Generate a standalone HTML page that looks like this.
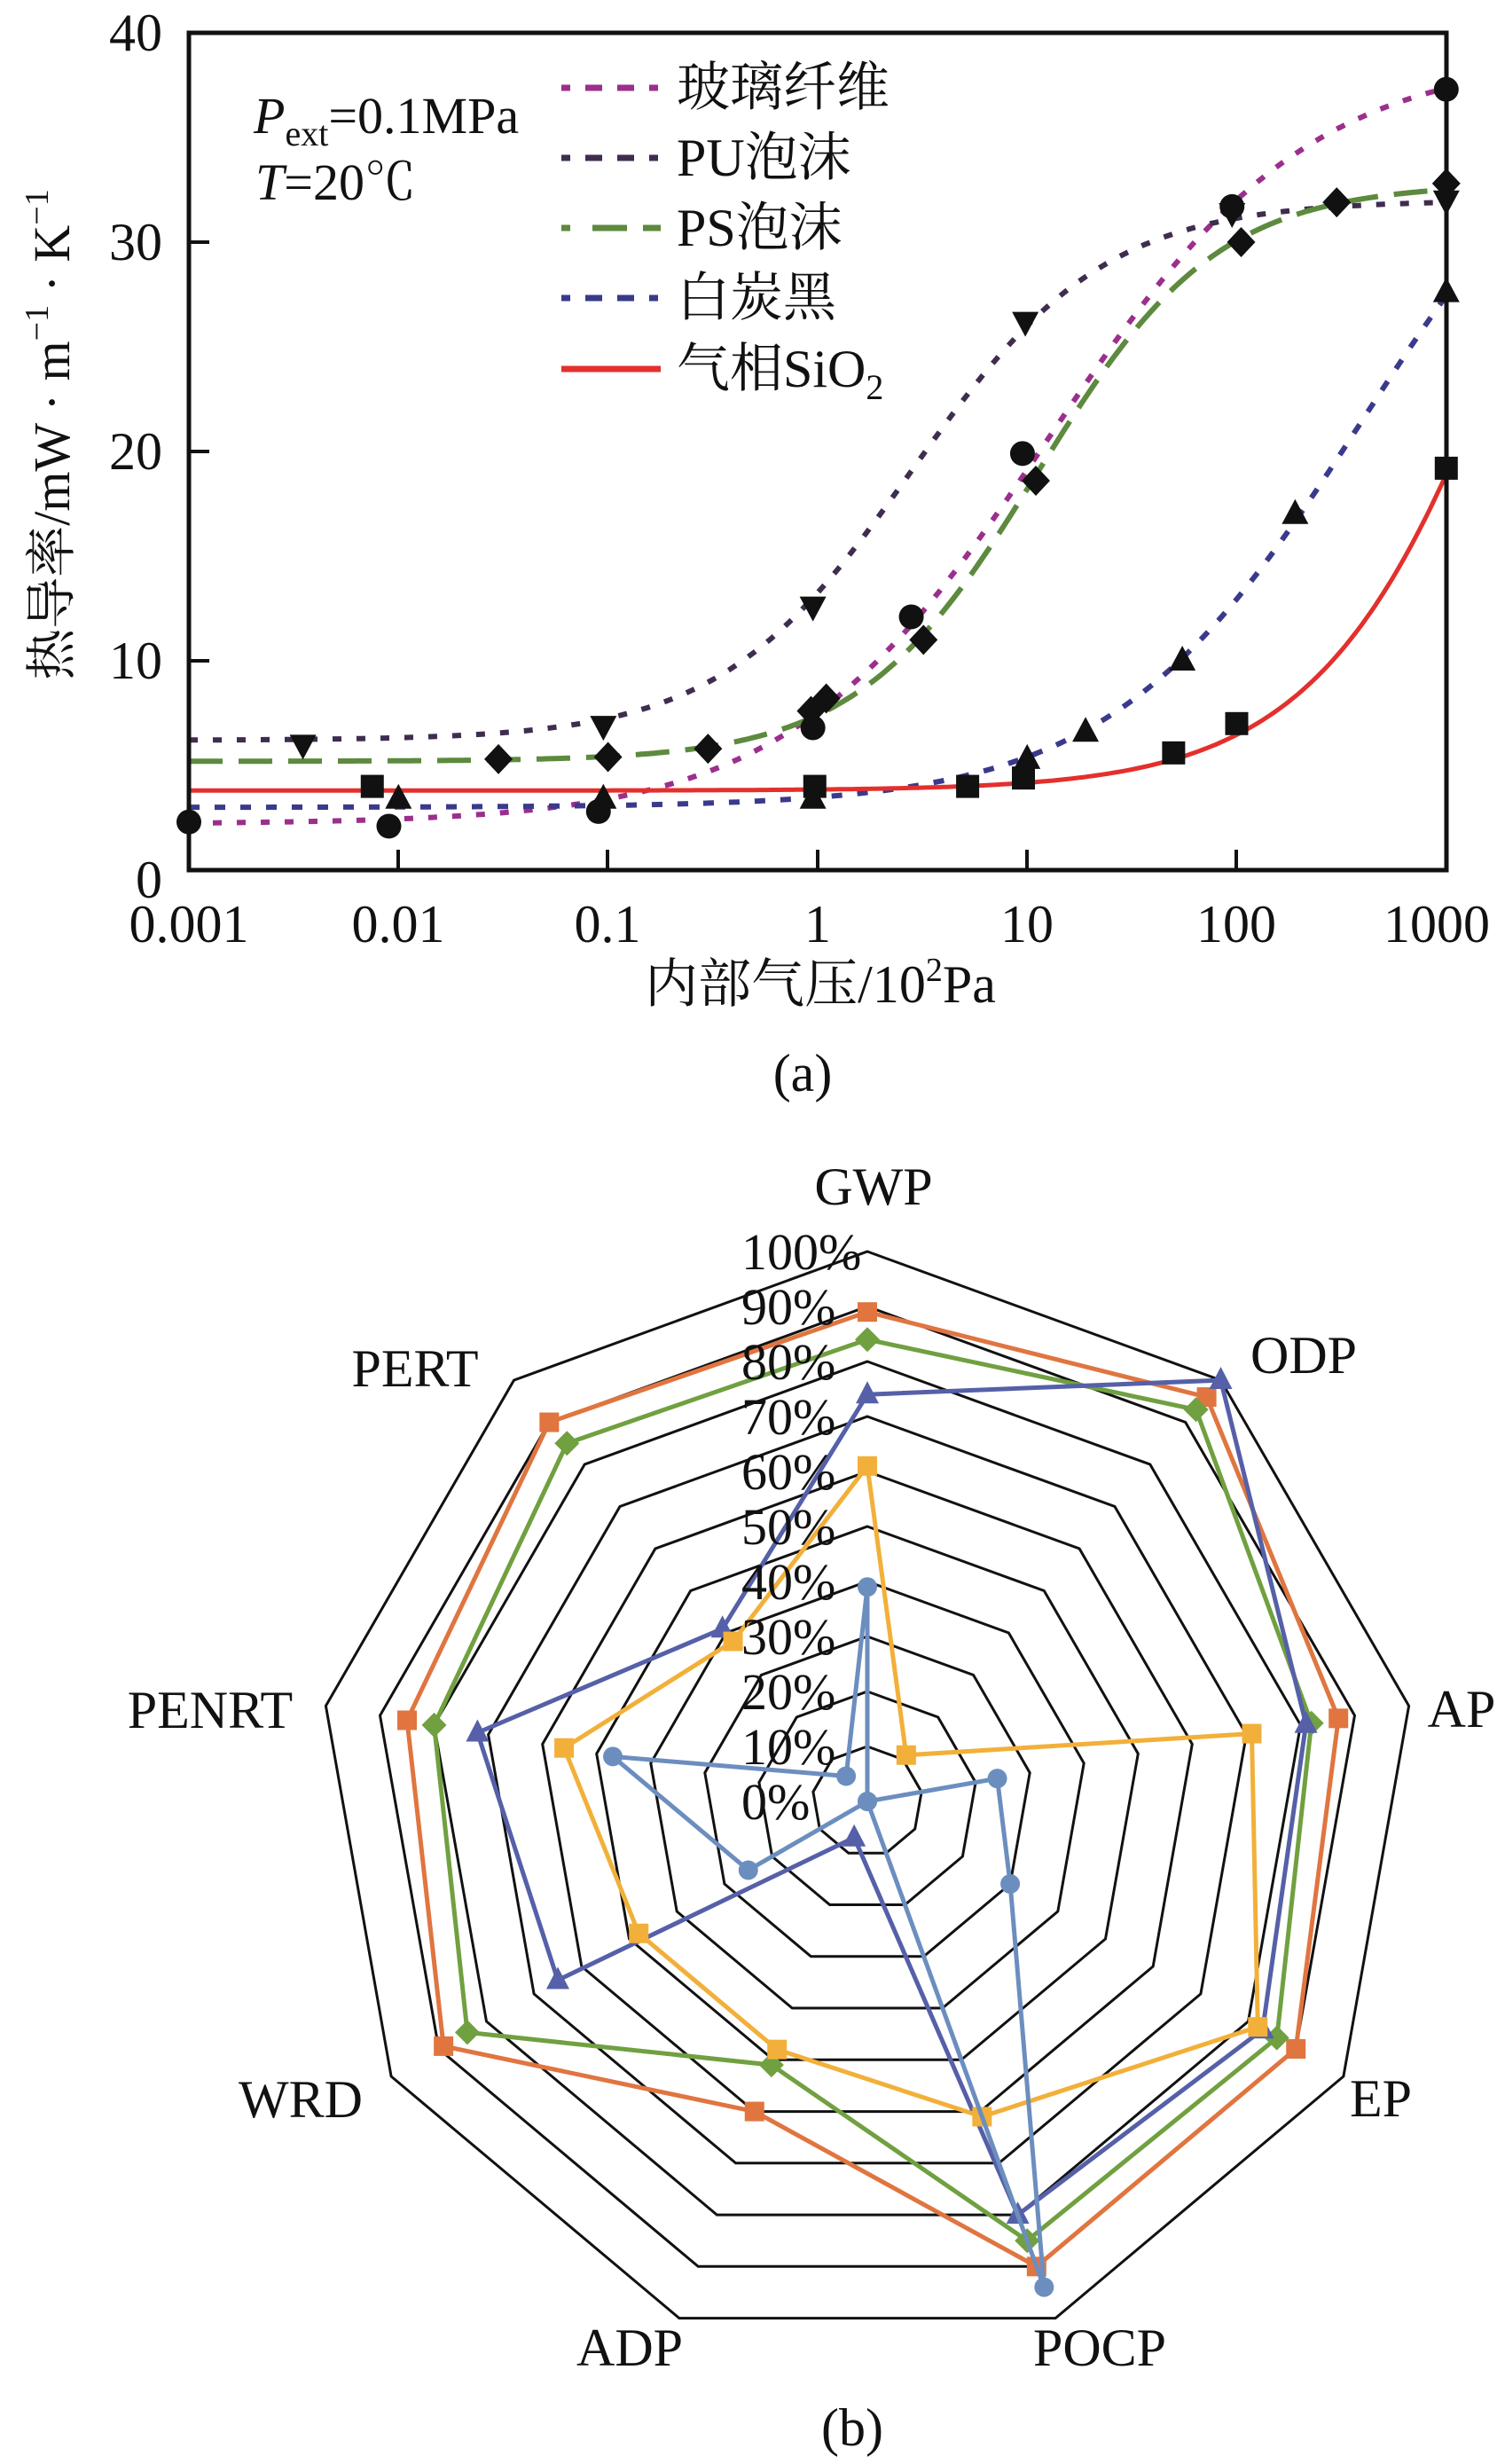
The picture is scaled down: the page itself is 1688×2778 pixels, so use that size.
<!DOCTYPE html>
<html><head><meta charset="utf-8">
<style>
html,body{margin:0;padding:0;background:#fff;}
svg{display:block;}
text{font-family:"Liberation Serif","Noto Serif CJK SC","Noto Sans CJK SC",serif;fill:#111;}
</style></head>
<body>
<svg id="s" width="1688" height="2778" viewBox="0 0 1688 2778" xmlns="http://www.w3.org/2000/svg">
<rect width="1688" height="2778" fill="#fff"/>
<!-- ===== Chart (a) ===== -->
<g id="curves"></g>
<g id="marks"></g>
<rect x="213" y="37" width="1418" height="944" fill="none" stroke="#111" stroke-width="5"/>
<g stroke="#111" stroke-width="4">
<line x1="213" y1="745" x2="236" y2="745"/><line x1="213" y1="509" x2="236" y2="509"/><line x1="213" y1="273" x2="236" y2="273"/>
<line x1="449" y1="981" x2="449" y2="958"/><line x1="685" y1="981" x2="685" y2="958"/><line x1="922" y1="981" x2="922" y2="958"/>
<line x1="1158" y1="981" x2="1158" y2="958"/><line x1="1394" y1="981" x2="1394" y2="958"/>
</g>
<g font-size="60" text-anchor="end">
<text x="183" y="57">40</text><text x="183" y="293">30</text><text x="183" y="529">20</text><text x="183" y="765">10</text><text x="183" y="1012">0</text>
</g>
<g font-size="60" text-anchor="middle">
<text x="213" y="1062">0.001</text><text x="449" y="1062">0.01</text><text x="685" y="1062">0.1</text>
<text x="922" y="1062">1</text><text x="1158" y="1062">10</text><text x="1394" y="1062">100</text><text x="1620" y="1062">1000</text>
</g>
<text x="925" y="1130" font-size="60" text-anchor="middle">内部气压/10<tspan font-size="38" dy="-24">2</tspan><tspan dy="24">Pa</tspan></text>
<text x="905" y="1230" font-size="60" text-anchor="middle">(a)</text>
<text transform="translate(78,490) rotate(-90)" font-size="58" text-anchor="middle">热导率/mW · m<tspan font-size="38" dy="-24">−1</tspan><tspan dy="24"> · K</tspan><tspan font-size="38" dy="-24">−1</tspan></text>
<text x="286" y="150" font-size="58"><tspan font-style="italic">P</tspan><tspan font-size="40" dy="14">ext</tspan><tspan dy="-14">=0.1MPa</tspan></text>
<text x="288" y="225" font-size="58"><tspan font-style="italic">T</tspan>=20℃</text>
<!-- legend -->
<g stroke-width="7" fill="none">
<line x1="633" y1="99" x2="745" y2="99" stroke="#9b2f8c" stroke-dasharray="10 17 19 17 19 17 10"/>
<line x1="633" y1="178" x2="745" y2="178" stroke="#3f2d4f" stroke-dasharray="10 17 19 17 19 17 10"/>
<line x1="633" y1="257" x2="745" y2="257" stroke="#5d8a3e" stroke-dasharray="10 25 39 18 20"/>
<line x1="633" y1="336" x2="745" y2="336" stroke="#3a3a8c" stroke-dasharray="10 17 19 17 19 17 10"/>
<line x1="633" y1="416" x2="745" y2="416" stroke="#e3302c"/>
</g>
<g font-size="60">
<text x="763" y="119">玻璃纤维</text>
<text x="763" y="198">PU泡沫</text>
<text x="763" y="277">PS泡沫</text>
<text x="763" y="356">白炭黑</text>
<text x="763" y="436">气相SiO<tspan font-size="40" dy="14">2</tspan></text>
</g>
<!-- ===== Chart (b) ===== -->
<g id="rings"></g>
<g id="series"></g>
<g font-size="58" id="pct"></g>
<g font-size="60" text-anchor="middle">
<text x="985" y="1358">GWP</text>
<text x="1470" y="1548">ODP</text>
<text x="1648" y="1947">AP</text>
<text x="1557" y="2386">EP</text>
<text x="1240" y="2667">POCP</text>
<text x="710" y="2667">ADP</text>
<text x="339" y="2387">WRD</text>
<text x="237" y="1948">PENRT</text>
<text x="468" y="1563">PERT</text>
<text x="961" y="2757">(b)</text>
</g>
<script>
(function(){
var NS="http://www.w3.org/2000/svg";
function el(t,a,p){var e=document.createElementNS(NS,t);for(var k in a)e.setAttribute(k,a[k]);p.appendChild(e);return e;}
function X(p){return 213+(Math.log10(p)+3)*236.3;}
function Y(v){return 981-v*23.6;}
function sig(a,b,x0,w){return function(x){return a+(b-a)/(1+Math.exp(-(x-x0)/w));};}
var cv=document.getElementById('curves');
var defs=[
 [sig(2.2,39,1.1,0.62),'#9b2f8c','10 17'],
 [sig(6.2,32,0.45,0.46),'#3f2d4f','10 17'],
 [sig(5.2,32.8,1.05,0.43),'#5d8a3e','38 18'],
 [sig(3.0,40,2.6,0.6),'#3a3a8c','12 17'],
 [sig(3.8,60,3.5,0.5),'#e3302c',null]
];
defs.forEach(function(d){
 var pts=[];for(var x=-3;x<=3.0001;x+=0.02){pts.push(X(Math.pow(10,x)).toFixed(1)+','+Y(d[0](x)).toFixed(1));}
 var a={points:pts.join(' '),fill:'none',stroke:d[1],'stroke-width':d[2]?6:5};
 if(d[2])a['stroke-dasharray']=d[2];
 el('polyline',a,cv);
});
var mk=document.getElementById('marks');
function circ(p,v){el('circle',{cx:X(p),cy:Y(v),r:14,fill:'#111'},mk);}
function sq(p,v){el('rect',{x:X(p)-13,y:Y(v)-13,width:26,height:26,fill:'#111'},mk);}
function dia(p,v){var x=X(p),y=Y(v);el('polygon',{points:[x,y-17,x+16,y,x,y+17,x-16,y].join(','),fill:'#111'},mk);}
function tu(p,v){var x=X(p),y=Y(v);el('polygon',{points:[x,y-17,x+15,y+11,x-15,y+11].join(','),fill:'#111'},mk);}
function td(p,v){var x=X(p),y=Y(v);el('polygon',{points:[x,y+17,x+15,y-11,x-15,y-11].join(','),fill:'#111'},mk);}
[[0.001,2.3],[0.009,2.1],[0.09,2.8],[0.95,6.8],[2.8,12.1],[9.5,19.9],[95,31.7],[1000,37.3]].forEach(function(a){circ(a[0],a[1]);});
[[0.0035,6],[0.095,6.9],[0.95,12.6],[9.8,26.2],[95,31.4],[1000,32]].forEach(function(a){td(a[0],a[1]);});
[[0.03,5.3],[0.1,5.4],[0.3,5.8],[0.93,7.6],[1.1,8.2],[3.2,11],[11,18.6],[105,30],[300,31.9],[1000,32.8]].forEach(function(a){dia(a[0],a[1]);});
[[0.0075,4],[0.97,4],[5.2,4],[9.6,4.4],[50,5.6],[100,7.0],[1000,19.2]].forEach(function(a){sq(a[0],a[1]);});
[[0.01,3.4],[0.095,3.4],[0.95,3.4],[10,5.3],[19,6.6],[55,10],[190,17],[1000,27.6]].forEach(function(a){tu(a[0],a[1]);});
// radar
var cx=978,cy=2031,R=620;
function P(k,f){var a=k*40*Math.PI/180;return [cx+Math.sin(a)*R*f,cy-Math.cos(a)*R*f];}
var rg=document.getElementById('rings');
for(var i=1;i<=10;i++){var pts=[];for(var k=0;k<9;k++){pts.push(P(k,i/10).map(function(v){return v.toFixed(1);}).join(','));}
 el('polygon',{points:pts.join(' '),fill:'none',stroke:'#111','stroke-width':3},rg);}
var sr=document.getElementById('series');
var S=[
 ['#e07540','sq',[89,96,87,90,90,60,89,85,90]],
 ['#70a040','dia',[84,93,82,86,85,51,84,80,85]],
 ['#5560a8','tri',[74,100,81,83,80,7,65,72,41]],
 ['#f2b03a','sq',[61,11,71,82,61,48,48,56,38]],
 ['#6c8ebf','circ',[39,0,24,30,94,0,25,47,6]]
];
S.forEach(function(s){
 var pts=s[2].map(function(v,k){return P(k,v/100);});
 el('polygon',{points:pts.map(function(p){return p[0].toFixed(1)+','+p[1].toFixed(1);}).join(' '),fill:'none',stroke:s[0],'stroke-width':5,'stroke-linejoin':'miter'},sr);
 pts.forEach(function(p){var x=p[0],y=p[1];
  if(s[1]=='sq')el('rect',{x:x-11,y:y-11,width:22,height:22,fill:s[0]},sr);
  else if(s[1]=='dia')el('polygon',{points:[x,y-14,x+14,y,x,y+14,x-14,y].join(','),fill:s[0]},sr);
  else if(s[1]=='tri')el('polygon',{points:[x,y-15,x+13,y+10,x-13,y+10].join(','),fill:s[0]},sr);
  else el('circle',{cx:x,cy:y,r:11,fill:s[0]},sr);
 });
});
})();
</script>
<g font-size="58">
<text x="836" y="1431">100%</text>
<text x="836" y="1493">90%</text>
<text x="836" y="1555">80%</text>
<text x="836" y="1617">70%</text>
<text x="836" y="1679">60%</text>
<text x="836" y="1741">50%</text>
<text x="836" y="1803">40%</text>
<text x="836" y="1865">30%</text>
<text x="836" y="1927">20%</text>
<text x="836" y="1989">10%</text>
<text x="836" y="2051">0%</text>
</g>
</svg>
</body></html>
